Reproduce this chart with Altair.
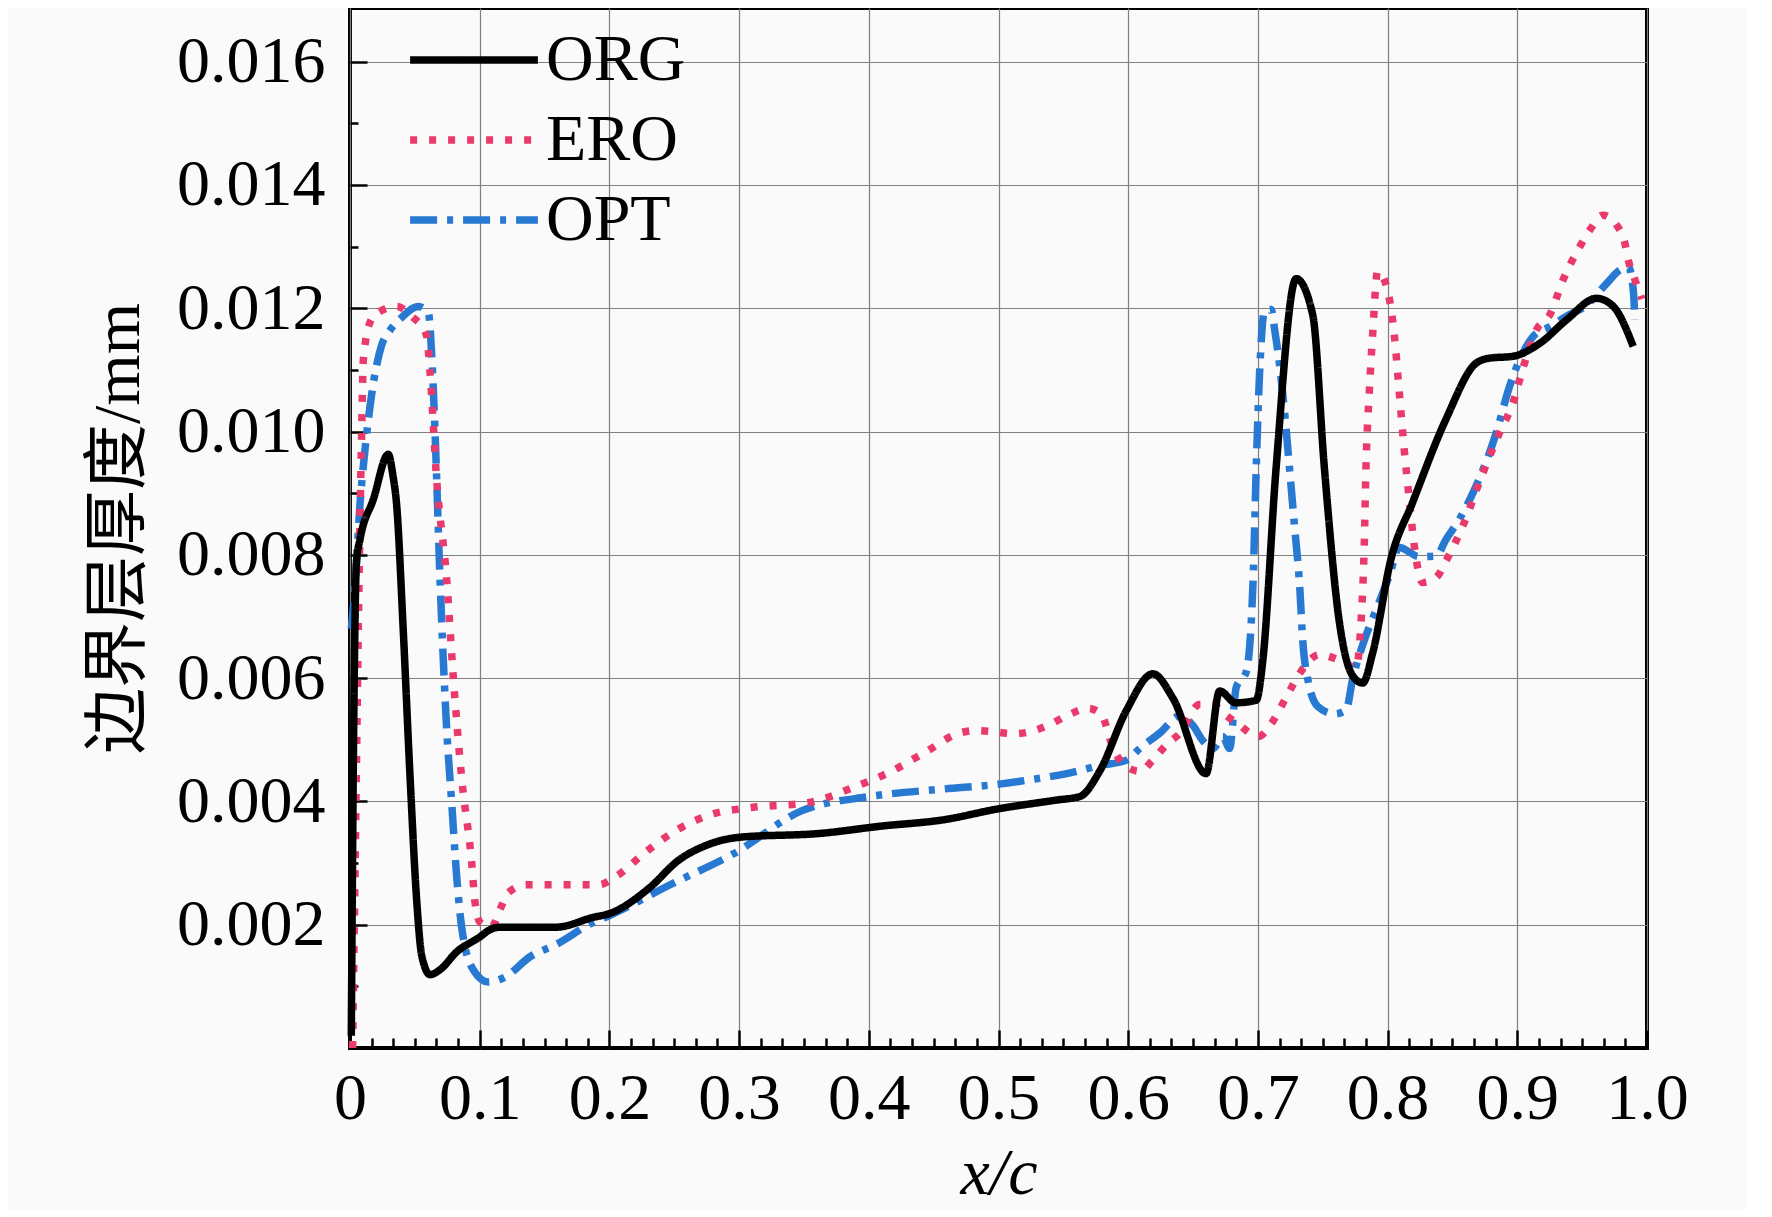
import altair as alt
import pandas as pd

SERIES = ["ORG", "ERO", "OPT"]
COLORS = ["#000000", "#ea3a6c", "#2879d2"]
DASHES = [[1, 0], [7, 12], [27, 10, 6, 10]]

ORG_X = [0.001, 0.003, 0.005, 0.0077, 0.018, 0.0295, 0.033, 0.036, 0.041, 0.0463,
         0.0514, 0.0553, 0.0617, 0.0694, 0.0823, 0.100, 0.108, 0.116, 0.159, 0.1876,
         0.200, 0.231, 0.253, 0.275, 0.301, 0.362, 0.410, 0.457, 0.500, 0.544,
         0.5628, 0.578, 0.5987, 0.619, 0.6346, 0.660, 0.6705, 0.683, 0.6987, 0.7038,
         0.714, 0.7295, 0.7423, 0.7513, 0.7628, 0.773, 0.7808, 0.7885, 0.8026, 0.8193,
         0.845, 0.8683, 0.8786, 0.8966, 0.9173, 0.9379, 0.9611, 0.974, 0.9894]
ORG_Y = [0.0002, 0.0055, 0.0079, 0.00825, 0.0089, 0.00963, 0.0093, 0.0088, 0.0068, 0.0044,
         0.0024, 0.0015, 0.00119, 0.00127, 0.00156, 0.0018, 0.00192, 0.00196, 0.00196, 0.00212,
         0.00218, 0.0026, 0.00304, 0.00329, 0.00342, 0.00348, 0.0036, 0.0037, 0.00388, 0.00402,
         0.00408, 0.00449, 0.00548, 0.00607, 0.00567, 0.00445, 0.00579, 0.0056, 0.00564, 0.00629,
         0.0094, 0.01248, 0.01189, 0.0094, 0.00691, 0.00604, 0.00592, 0.00641, 0.00793, 0.00885,
         0.0102, 0.01111, 0.01119, 0.01122, 0.01143, 0.01181, 0.01216, 0.01203, 0.01138]

ERO_X = [0.002, 0.004, 0.0064, 0.009, 0.0103, 0.016, 0.0231, 0.036, 0.0475, 0.059,
         0.0617, 0.0668, 0.0745, 0.0797, 0.0861, 0.0938, 0.0964, 0.1002, 0.109, 0.1157,
         0.122, 0.136, 0.192, 0.205, 0.2268, 0.253, 0.279, 0.3095, 0.353, 0.392,
         0.4176, 0.4437, 0.470, 0.483, 0.5134, 0.539, 0.5526, 0.569, 0.579, 0.5885,
         0.596, 0.609, 0.619, 0.6295, 0.640, 0.655, 0.665, 0.6756, 0.6846, 0.700,
         0.7103, 0.718, 0.7244, 0.732, 0.7474, 0.7628, 0.7756, 0.7795, 0.782, 0.7833,
         0.7859, 0.7885, 0.7923, 0.7987, 0.8051, 0.809, 0.8128, 0.8167, 0.8205, 0.827,
         0.8374, 0.845, 0.858, 0.8735, 0.8863, 0.8966, 0.9044, 0.9147, 0.925, 0.9353,
         0.9482, 0.956, 0.9662, 0.9765, 0.983, 0.9856, 0.9907, 0.996]
ERO_Y = [0.0, 0.003, 0.0068, 0.01, 0.01116, 0.0118, 0.01195, 0.01203, 0.01187, 0.01156,
         0.01096, 0.00922, 0.00761, 0.006, 0.00438, 0.00301, 0.00236, 0.00204, 0.00196, 0.00225,
         0.00252, 0.00265, 0.00265, 0.00278, 0.00316, 0.00355, 0.00379, 0.0039, 0.00398, 0.00426,
         0.00449, 0.0048, 0.00511, 0.00515, 0.0051, 0.00524, 0.00539, 0.00551, 0.00542, 0.00486,
         0.00461, 0.00449, 0.00467, 0.00492, 0.00511, 0.00557, 0.00557, 0.00539, 0.00526, 0.00505,
         0.00526, 0.00554, 0.00579, 0.00607, 0.00638, 0.00629, 0.00617, 0.00691, 0.00816, 0.0094,
         0.01064, 0.01158, 0.0126, 0.01239, 0.01158, 0.01064, 0.00971, 0.0089, 0.00816, 0.00755,
         0.00763, 0.0079, 0.00847, 0.00933, 0.00998, 0.01046, 0.01103, 0.01165, 0.01189, 0.01246,
         0.013, 0.01327, 0.01351, 0.01335, 0.01305, 0.01278, 0.01246, 0.01215]

OPT_X = [0.001, 0.004, 0.0077, 0.0116, 0.0167, 0.0244, 0.0308, 0.0398, 0.0527, 0.0604,
         0.063, 0.0655, 0.0694, 0.0745, 0.0784, 0.0823, 0.0861, 0.095, 0.1067, 0.1195,
         0.1388, 0.159, 0.1876, 0.200, 0.248, 0.2965, 0.3485, 0.401, 0.4568, 0.5004,
         0.527, 0.5526, 0.578, 0.5987, 0.609, 0.6244, 0.640, 0.650, 0.6577, 0.6654,
         0.673, 0.6782, 0.6833, 0.691, 0.6962, 0.6987, 0.7013, 0.7051, 0.7103, 0.7128,
         0.7167, 0.7205, 0.7244, 0.7282, 0.7321, 0.7346, 0.7385, 0.7462, 0.759, 0.768,
         0.773, 0.7808, 0.791, 0.8013, 0.809, 0.8244, 0.8374, 0.845, 0.8554, 0.8683,
         0.8838, 0.894, 0.9121, 0.925, 0.9379, 0.9534, 0.9688, 0.9791, 0.9856, 0.9894,
         0.9907]
OPT_Y = [0.0068, 0.0075, 0.00882, 0.00971, 0.0106, 0.0114, 0.01164, 0.01185, 0.01203, 0.01193,
         0.01124, 0.01003, 0.00761, 0.00519, 0.00398, 0.00277, 0.00196, 0.00127, 0.00107, 0.00115,
         0.00148, 0.00168, 0.00204, 0.00215, 0.00266, 0.00316, 0.00385, 0.00408, 0.0042, 0.00428,
         0.00436, 0.00445, 0.00458, 0.00467, 0.00486, 0.00511, 0.00539, 0.00523, 0.00498, 0.00486,
         0.00505, 0.00486, 0.00585, 0.0061, 0.00753, 0.0094, 0.01095, 0.01195, 0.01198, 0.01167,
         0.01108, 0.01033, 0.0094, 0.00847, 0.00753, 0.0066, 0.00598, 0.00554, 0.00542, 0.00548,
         0.00598, 0.00654, 0.0071, 0.00766, 0.00812, 0.00797, 0.00798, 0.00825, 0.00858, 0.00912,
         0.00998, 0.01073, 0.01154, 0.0117, 0.01187, 0.01205, 0.0124, 0.01262, 0.01267, 0.0123,
         0.01181]

X_MAJOR = [0.0, 0.1, 0.2, 0.3, 0.4, 0.5, 0.6, 0.7, 0.8, 0.9, 1.0]
X_MINOR = [k / 60 for k in range(61) if k % 6 != 0]
Y_LABELS = [0.002, 0.004, 0.006, 0.008, 0.010, 0.012, 0.014, 0.016]
Y_MINOR = [0.001, 0.003, 0.005, 0.007, 0.009, 0.011, 0.013, 0.015]

rows = []
for name, xs, ys in [("OPT", OPT_X, OPT_Y), ("ERO", ERO_X, ERO_Y), ("ORG", ORG_X, ORG_Y)]:
    for a, b in zip(xs, ys):
        rows.append({"series": name, "x": a, "y": b})
df = pd.DataFrame(rows)

FONT = "Liberation Serif"
CJK = "Liberation Serif, Noto Sans CJK SC"
FS = 66

x_scale = alt.Scale(domain=[0, 1], nice=False, zero=False)
y_scale = alt.Scale(domain=[0, 0.01687], nice=False, zero=False)

legend = alt.Legend(
    title=None, orient="none", legendX=90, legendY=18,
    symbolType="M-2.13,0H2.13", symbolSize=3600, symbolStrokeWidth=7.5,
    labelFont=FONT, labelFontSize=FS, labelColor="black", labelOffset=38,
    rowPadding=13, padding=0,
)

lines = alt.Chart(df).mark_line(strokeWidth=7.5, strokeJoin="round",
                                interpolate="monotone").encode(
    x=alt.X("x:Q", scale=x_scale, axis=alt.Axis(
        orient="bottom", values=X_MAJOR,
        labelExpr="datum.value == 0 ? '0' : format(datum.value, '.1f')",
        ticks=False, tickSize=0, domain=False, grid=True, gridColor="#7f7f7f", gridWidth=1.2,
        labelFont=FONT, labelFontSize=FS, labelColor="black", labelPadding=18,
        labelFlush=False, labelOverlap=False,
        title="x/c", titleFont=FONT, titleFontSize=FS, titleFontStyle="italic",
        titleFontWeight="normal", titleColor="black", titlePadding=10)),
    y=alt.Y("y:Q", scale=y_scale, axis=alt.Axis(
        orient="left", values=Y_LABELS, format=".3f",
        ticks=False, tickSize=0, domain=False, grid=True, gridColor="#7f7f7f", gridWidth=1.2,
        labelFont=FONT, labelFontSize=FS, labelColor="black", labelPadding=25,
        labelFlush=False, labelOverlap=False,
        title="边界层厚度/mm", titleFont=CJK, titleFontSize=FS, titleFontWeight="normal",
        titleColor="black", titlePadding=24)),
    color=alt.Color("series:N", scale=alt.Scale(domain=SERIES, range=COLORS), legend=legend),
    strokeDash=alt.StrokeDash("series:N", scale=alt.Scale(domain=SERIES, range=DASHES), legend=legend),
)


def tick_layer(xvals, yvals, xlen, ylen):
    return alt.Chart(df).mark_line(opacity=0).encode(
        x=alt.X("x:Q", scale=x_scale, axis=alt.Axis(
            orient="bottom", values=xvals, labels=False, domain=False, grid=False,
            ticks=True, tickSize=xlen, tickWidth=2.5, tickColor="black",
            offset=-xlen, title=None)),
        y=alt.Y("y:Q", scale=y_scale, axis=alt.Axis(
            orient="left", values=yvals, labels=False, domain=False, grid=False,
            ticks=True, tickSize=ylen, tickWidth=2.5, tickColor="black",
            offset=-ylen, title=None)),
        detail="series:N",
    )


chart = alt.layer(
    lines,
    tick_layer(X_MAJOR, Y_LABELS, 18, 17),
    tick_layer(X_MINOR, Y_MINOR, 10, 8),
).resolve_axis(x="independent", y="independent").properties(
    width=1297, height=1040,
    autosize=alt.AutoSizeParams(type="none"),
    padding={"left": 342, "top": 0, "right": 100, "bottom": 161},
    background="#fafafa",
).configure_view(stroke="black", strokeWidth=4)

chart.save("out.html", embed_options={"renderer": "svg", "actions": False})
